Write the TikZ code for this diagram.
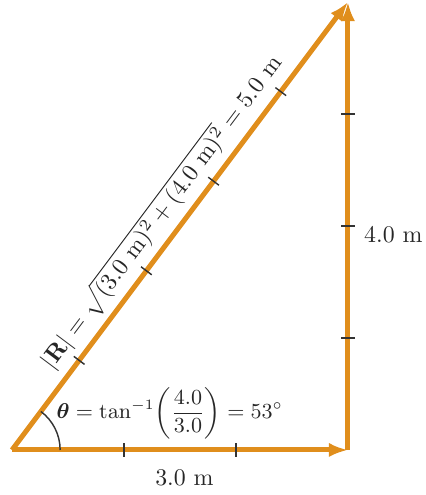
\documentclass[tikz,border=0pt]{standalone}
\usepackage{amsmath,bm}
\usetikzlibrary{arrows.meta,calc}
\definecolor{vecorange}{RGB}{224,142,28}
\tikzset{
  vec/.style={draw=vecorange, line width=2.1pt, -{Latex[length=8pt,width=6pt]}},
  tickmk/.style={draw=black!80, line width=0.6pt},
  lbl/.style={text=black!85},
}
\begin{document}
\begin{tikzpicture}[x=1.65cm,y=1.65cm]
\useasboundingbox (-0.107,-0.402) rectangle (3.696,4.018);
\coordinate (O) at (0,0); \coordinate (A) at (3,0); \coordinate (B) at (3,4);
\draw[vec] (O)--(A);
\draw[vec] (A)--(B);
\draw[vec] (O)--(B) node[lbl, pos=0.5, sloped, above, inner sep=2.5pt] (rlab)
  {$|\mathbf{R}| = \sqrt{(3.0\ \mathrm{m})^2 + (4.0\ \mathrm{m})^2} = 5.0\ \mathrm{m}$};
% tick marks, one unit apart
\foreach \k in {1,2} \draw[tickmk] ($(O)!\k/3!(A)$) ++(0,-0.06) -- ++(0,0.12);
\foreach \k in {1,2,3} \draw[tickmk] ($(A)!\k/4!(B)$) ++(-0.06,0) -- ++(0.12,0);
\foreach \k in {1,...,4} \draw[tickmk] ($(O)!\k/5!(B)$) ++(0.048,-0.036) -- ++(-0.096,0.072);
% angle
\draw[black!80, line width=0.6pt] (0.43,0) arc[start angle=0, end angle=53.13, radius=0.43];
\node[lbl, font=\small] (tlab) at (1.41,0.33) {$\bm{\theta} = \tan^{-1}\!\left(\dfrac{4.0}{3.0}\right) = 53^\circ$};
\node[lbl] (hlab) at (1.54,-0.25) {3.0 m};
\node[lbl, anchor=west] (vlab) at (3.07,1.92) {4.0 m};
\end{tikzpicture}
\end{document}
